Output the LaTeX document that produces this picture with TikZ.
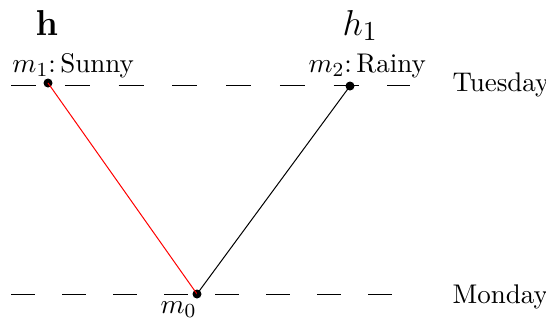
\documentclass[tikz,border=0pt]{standalone}
\begin{document}
\begin{tikzpicture}[x=0.4pt,y=-0.4pt,
  every node/.style={font=\fontsize{10.8}{13}\selectfont},
  dot/.style={circle,fill=black,inner sep=0pt,minimum size=3.6pt},
  lbl/.style={inner sep=0pt,anchor=base west},
  topdash/.style={line width=0.4pt,dash pattern=on 10pt off 11.5pt},
  botdash/.style={line width=0.4pt,dash pattern=on 9.7pt off 10.7pt}]
\useasboundingbox (0,0) rectangle (546,321);
% dashed day lines
\coordinate (t0) at (11,85);
\coordinate (t1) at (410,85);
\coordinate (b0) at (11,294);
\coordinate (b1) at (393,294);
\draw[topdash] (t0) -- (t1);
\draw[botdash] (b0) -- (b1);
% points
\node[dot] (m1) at (48,83) {};
\node[dot] (m2) at (350,86) {};
\node[dot] (m0) at (197,294) {};
\draw[red,line width=0.4pt] (m1.center) -- (m0.center);
\draw[line width=0.4pt] (m2.center) -- (m0.center);
% labels
\node[inner sep=0pt,anchor=base,font=\fontsize{13.5}{16}\selectfont] (hb) at (47,35) {$\mathbf{h}$};
\node[inner sep=0pt,anchor=base west,font=\fontsize{15}{18}\selectfont] (h1) at (342,35) {$h_1$};
\node[lbl] (l1) at (12,72) {$m_1$:\,Sunny};
\node[lbl] (l2) at (308,72) {$m_2$:\,Rainy};
\node[lbl] (l0) at (160,313) {$m_0$};
\node[lbl] (tue) at (452,91.5) {Tuesday};
\node[lbl] (mon) at (452,303) {Monday};
\end{tikzpicture}
\end{document}
